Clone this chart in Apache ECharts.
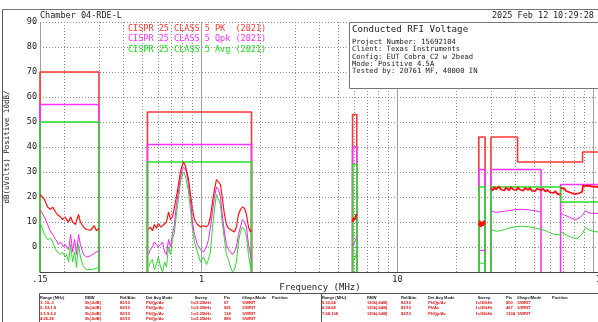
<!DOCTYPE html>
<html><head><meta charset="utf-8">
<script src="https://cdn.jsdelivr.net/npm/echarts@6/dist/echarts.min.js"></script>
<style>html,body{margin:0;padding:0;background:#fff}#c{width:598px;height:322px}</style>
</head><body><div id="c"></div><script>
// ---------- data ----------
const legendNames = ['CISPR 25 CLASS 5 PK  (2021)', 'CISPR 25 CLASS 5 Qpk (2021)', 'CISPR 25 CLASS 5 Avg (2021)'];
// limit segments [fStart MHz, fEnd MHz, dBuV]
const pkLimit = [[0.15,0.3,70],[0.53,1.8,54],[5.9,6.2,53],[26,28,44],[30,41,44],[41,88,34],[88,108,38]];
const qpLimit = [[0.15,0.3,57],[0.53,1.8,41],[5.9,6.2,40],[26,28,31],[30,54,31],[68,108,25]];
const avLimit = [[0.15,0.3,50],[0.53,1.8,34],[5.9,6.2,33],[26,28,24],[30,68,24],[68,108,18]];

const freq1 = [0.15,0.158,0.164,0.17,0.174,0.18,0.184,0.186,0.191,0.195,0.198,0.202,0.205,0.21,0.215,0.22,0.225,0.228,0.23,0.236,0.241,0.25,0.259,0.272,0.284,0.291,0.3];
const pk1 = [21,19,16,15,16,14,13,13.5,12,11,11.5,12,11,10,12,10,9.5,9,10.5,13,10,8,7,6.7,8.5,6.5,7.5];
const qp1 = [15,12,9,6,5,3,2,1,2,1,0,1,0,-1,5,-2,3,0,-3,5,1,-3,-4,-3.5,-2.5,-2,-1.5];
const av1 = [10,5,3,3.5,2,-1,-2,-1.5,-3,-2,-2.5,-4,-3,-6,1,-6,-2,-5,-8,1,-4,-8,-9,-9,-8.8,-8.5,-8];

const freq2 = [0.537,0.549,0.562,0.575,0.589,0.603,0.618,0.633,0.648,0.663,0.679,0.695,0.711,0.728,0.745,0.763,0.781,0.800,0.809,0.828,0.838,0.859,0.879,0.900,0.921,0.954,0.988,1.024,1.061,1.086,1.111,1.138,1.165,1.193,1.221,1.250,1.280,1.310,1.341,1.373,1.406,1.439,1.473,1.508,1.544,1.581,1.618,1.657,1.697,1.737,1.778,1.8];
const pk2 = [7,8,6.5,9,7.5,9.5,8,8.5,9,10,14,11,12,16,20,25,30,33,34,32.5,33,27,21,15,11,9,8,8.5,8,9,12,18,23,27,26.5,25,19,13,9,7.5,7,7.5,6,8,13,15,16,15.5,13,8,6,7];
const qp2 = [-3,-1,0,2,1,0,1,2,-2,-3,3,0,5,9,17,22,28,31,32,31,30,25,19,10,5,1,-1,-2,0,3,8,14,20,24,23,20,12,6,1,-1,-2,-3,-2,0,5,8,11,10,8,1,-3,-5];
const av2 = [-8,-6,-5,-9,-7,-4,-8,-10,-6,-8,0,-3,3,6,13,19,26,29,30,28.5,28,22,15,7,2,-2,-6,-4,-7,-5,-2,8,15,21,20.5,17,9,3,-3,-5,-8,-10,-9,-6,2,6,8,7,4,-3,-8,-9];

const freq3 = [5.9,5.95,6.0,6.05,6.1,6.15,6.2];
const pk3 = [10,11.5,10.5,12,11,13,12.5];
const qp3 = [0.5,1,1.5,2,2.5,3,4];
const av3 = [-6,-5.5,-5,-4.5,-4,-3,-2.5];

const freq4 = [26,26.3,26.6,27,27.3,27.6,28];
const pk4 = [8.5,10.5,8,10,8.5,10.5,9];
const qp4 = [-1.6,-1.3,-1.5,-1.2,-1.4,-1.3,-1.6];
const av4 = [-7.5,-6.5,-6.2,-6.4,-6.2,-6.5,-7];

const freq5 = [30,30.6,31.2,31.8,32.4,33,33.7,34.4,35.1,35.8,36.5,37.2,38,38.8,39.6,40.4,41.2,42,42.9,43.8,44.7,45.6,46.5,47.4,48.4,49.4,50.4,51.4,52.4,53.4,54];
const pk5 = [23.5,22.5,24,23,22.8,24.2,23,23.6,22.6,23.8,23.2,22.7,24,23.1,23.5,22.6,23.9,23,23.4,22.5,23.6,23,22.8,23.7,22.6,23.2,22.4,23.3,22.6,22.9,22.4];
const qp5 = [14.4,14.2,14,13.9,13.9,14,14.1,14.2,14.3,14.4,14.5,14.6,14.7,14.8,14.9,15,15,15,15.1,15.1,15,15,14.9,14.8,14.7,14.6,14.5,14.4,14.2,14.1,14];
const av5 = [7,6.8,6.5,6.3,6.3,6.4,6.6,6.8,7,7.2,7.4,7.6,7.8,7.9,8,8.1,8.2,8.3,8.3,8.3,8.2,8.2,8.1,8,7.9,7.8,7.6,7.5,7.3,7.2,7.1];

const freq6 = [54,55.4,56.8,58.2,59.6,61,62.5,64,65.5,67,68];
const pk6 = [22.6,23.3,22.2,22.9,22,22.6,21.6,22.3,21.2,21.8,21];
const av6 = [7,6.8,6.5,6.2,5.8,5.5,5.2,5,4.6,4.9,4.3];

const freq7 = [68,69.5,71,72.5,74,75.5,77,78.5,80,81.5,83,84.5,86,87.5,88.5,89.5,91,93,95,97,99,101,103,105,108];
const pk7 = [23.6,23,23.4,22.4,22.8,21.9,22.3,21.4,21.9,21.2,21.8,21.5,22.2,22,24.6,24,24.5,23.8,24.4,23.7,24.2,23.6,24.1,23.5,23.9];
const qp7 = [13.5,13.3,12.8,12.4,12.2,11.9,11.6,11.3,11.1,11,11.2,11.6,12,12.5,13,13.4,14.6,13.8,13.6,13.6,13.5,13.5,13.4,13.5,13.4];
const av7 = [6,5.7,5.2,4.8,4.5,4.2,3.9,3.7,3.5,3.4,3.5,4,4.6,5.2,5.8,6.2,7.8,7.2,6.8,6.5,6.4,6.3,6.1,6,5.9];

const minorGrid = [0.2,0.3,0.4,0.5,0.6,0.7,0.8,0.9,2,3,4,5,6,7,8,9,20,30,40,50,60,70,80,90];

const titleText = 'Chamber 04-RDE-L';
const dateText = '2025 Feb 12';
const timeText = '10:29:28';
const infoTitle = 'Conducted RFI Voltage';
const infoLines = ['Project Number: 15692104','Client: Texas Instruments','Config: EUT Cobra C2 w 2bead','Mode: Positive 4.5A','Tested by: 20761 MF, 40000 IN'];
const tableHead = ['Range (MHz)','RBW','Ref/Attn','Det Avg Mode','Sweep','Pts','#Swps/Mode','Position'];
const tableLeft = [
  ['1:.15-.3','9k(-6dB)','82/10','Pk/Qp/Av','1s/2.25kHz','67','1/WRIT'],
  ['2:.53-1.8','9k(-6dB)','82/10','Pk/Qp/Av','1s/2.25kHz','565','1/WRIT'],
  ['3:5.9-6.2','9k(-6dB)','82/10','Pk/Qp/Av','1s/2.25kHz','134','1/WRIT'],
  ['4:26-28','9k(-6dB)','82/10','Pk/Qp/Av','1s/2.25kHz','889','1/WRIT']];
const tableRight = [
  ['5:30-54','120k(-6dB)','82/10','Pk/Qp/Av','1s/30kHz','800','1/WRIT'],
  ['6:54-68','120k(-6dB)','82/10','Pk/Av','1s/30kHz','467','1/WRIT'],
  ['7:68-108','120k(-6dB)','82/10','Pk/Qp/Av','1s/30kHz','1334','1/WRIT']];

// ---------- build ----------
const MONO = "'DejaVu Sans Mono', monospace";
const Y_MIN = -10, Y_MAX = 90;
const C_LIM = ['#ff3434', '#ff30ff', '#22e022'];
const C_TR = ['#ff1010', '#f020f0', '#2ad82a'];

function runs(segs){ const out=[]; let cur=null;
  segs.forEach(s=>{ if(cur && cur[cur.length-1][1]===s[0]) cur.push(s); else { cur=[s]; out.push(cur);} });
  return out; }
function runPath(run){ const p=[[run[0][0], Y_MIN]];
  run.forEach(s=>{ p.push([s[0], s[2]]); p.push([s[1], s[2]]); });
  p.push([run[run.length-1][1], Y_MIN]); return p; }

const series = [];
series.push({ type:'line', data:[], silent:true, z:1,
  markLine:{ silent:true, symbol:['none','none'], animation:false, label:{show:false},
    lineStyle:{color:'#8c8c8c', width:1, type:[1,2]}, emphasis:{disabled:true},
    data: minorGrid.map(f=>({xAxis:f})) } });
[pkLimit, qpLimit, avLimit].forEach((segs, k)=>{
  runs(segs).forEach(run=>{
    series.push({ name: legendNames[k], type:'line', data: runPath(run), symbol:'none', silent:true, z:2+k*0.1,
      lineStyle:{color:C_LIM[k], width:1.6}, itemStyle:{color:C_LIM[k]} });
  });
});
function trace(freqs, vals, k, w){ return { type:'line', data: freqs.map((f,i)=>[f, vals[i]]), symbol:'none', silent:true,
  z: 3 + (2-k)*0.1, lineStyle:{color:C_TR[k], width: w || (k===0?1.2:1)} }; }
[[freq1,pk1,qp1,av1],[freq2,pk2,qp2,av2],[freq3,pk3,qp3,av3,2],[freq4,pk4,qp4,av4,2],[freq5,pk5,qp5,av5,1.8],[freq6,pk6,null,av6,1.8],[freq7,pk7,qp7,av7,1.8]]
  .forEach(r=>{ if(r[3]) series.push(trace(r[0], r[3], 2)); if(r[2]) series.push(trace(r[0], r[2], 1)); series.push(trace(r[0], r[1], 0, r[4])); });

function near(v,t){ return Math.abs(v-t)/t < 0.01; }

const g = [];
const txt = (x,y,text,fill,size,family,extra)=>Object.assign({type:'text', x, y, z:100, silent:true,
  style:Object.assign({text, fill, fontSize:size, fontFamily:family, align:'left', textAlign:'left', verticalAlign:'middle', textVerticalAlign:'middle'}, extra||{})});
const ln = (x1,y1,x2,y2,c)=>({type:'line', z:100, silent:true, shape:{x1,y1,x2,y2}, style:{stroke:c, lineWidth:1}});
g.push(ln(2.5,9.5,598,9.5,'#777'));
g.push(ln(2.5,9.5,2.5,322,'#555'));
g.push(ln(39.5,293.5,598,293.5,'#555'));
g.push(ln(39.5,293.5,39.5,322,'#555'));
g.push(ln(321.5,293.5,321.5,322,'#555'));
g.push(txt(40,15.5,titleText,'#222',8.5,MONO));
g.push(txt(492,15.5,dateText,'#222',8.5,MONO));
g.push(txt(553,15.5,timeText,'#222',8.5,MONO));
g.push({type:'rect', z:99, silent:true, shape:{x:349.5,y:22.5,width:260,height:66}, style:{fill:'#fff', stroke:'#777', lineWidth:1}});
g.push(txt(352,30,infoTitle,'#222',9.2,MONO));
infoLines.forEach((s,i)=>g.push(txt(352,42+i*7.4,s,'#222',7.2,MONO)));
const colL = [40,85,120,146,201,224,242,272], colR = [322,367,401,428,484,506,517,552];
const TF = "'Liberation Sans', sans-serif";
function table(cols, rows){
  tableHead.forEach((h,i)=>g.push(txt(cols[i],297.5,h,'#222',4,TF,{fontWeight:'bold', align:i===4?'center':'left', textAlign:i===4?'center':'left'})));
  rows.forEach((r,j)=>r.forEach((c,i)=>g.push(txt(cols[i],302.8+j*5.5,c,'#e01010',4,TF,{fontWeight:'bold', align:i===4?'center':'left', textAlign:i===4?'center':'left'}))));
}
table(colL, tableLeft); table(colR, tableRight);

const chart = echarts.init(document.getElementById('c'), null, {renderer:'canvas'});
chart.setOption({
  animation:false,
  backgroundColor:'#fff',
  grid:{left:40, top:22, width:560, height:250, containLabel:false, outerBoundsMode:'none'},
  legend:{ orient:'vertical', left:118, top:19, itemGap:1.5, itemWidth:0, itemHeight:0, icon:'rect', selectedMode:false, z:50,
    textStyle:{fontFamily:MONO, fontSize:8.5},
    data: legendNames.map((n,k)=>({name:n, textStyle:{color:C_LIM[k]}})) },
  xAxis:{ type:'log', logBase:10, min:0.15, max:108,
    axisLine:{show:true, onZero:false, lineStyle:{color:'#444', width:1}}, axisTick:{show:false},
    splitLine:{show:true, lineStyle:{color:'#a0a0a0', width:1}},
    axisLabel:{ fontFamily:MONO, fontSize:8.5, color:'#222', margin:3, showMinLabel:true, showMaxLabel:true, hideOverlap:false,
      formatter: v => near(v,0.15)?'.15': near(v,1)?'1': near(v,10)?'10': near(v,100)?'{r|100}':'',
      rich:{ r:{fontFamily:MONO, fontSize:8.5, color:'#222', padding:[0,0,0,20]} } },
    name:'Frequency (MHz)', nameLocation:'middle', nameGap:11, nameMoveOverlap:false,
    nameTextStyle:{fontFamily:MONO, fontSize:9, color:'#222'} },
  yAxis:{ type:'value', min:Y_MIN, max:Y_MAX, interval:10,
    axisLine:{show:false}, axisTick:{show:false},
    axisLabel:{fontFamily:MONO, fontSize:8.5, color:'#222', margin:3, formatter: v => v===Y_MIN?'':String(v)},
    splitLine:{lineStyle:{color:'#8c8c8c', width:1, type:[1,2]}},
    name:'dB(uVolts) Positive 10dB/', nameLocation:'middle', nameRotate:90, nameGap:29, nameMoveOverlap:false,
    nameTextStyle:{fontFamily:MONO, fontSize:7.5, color:'#222'} },
  graphic:{elements:g},
  series
});
</script></body></html>
